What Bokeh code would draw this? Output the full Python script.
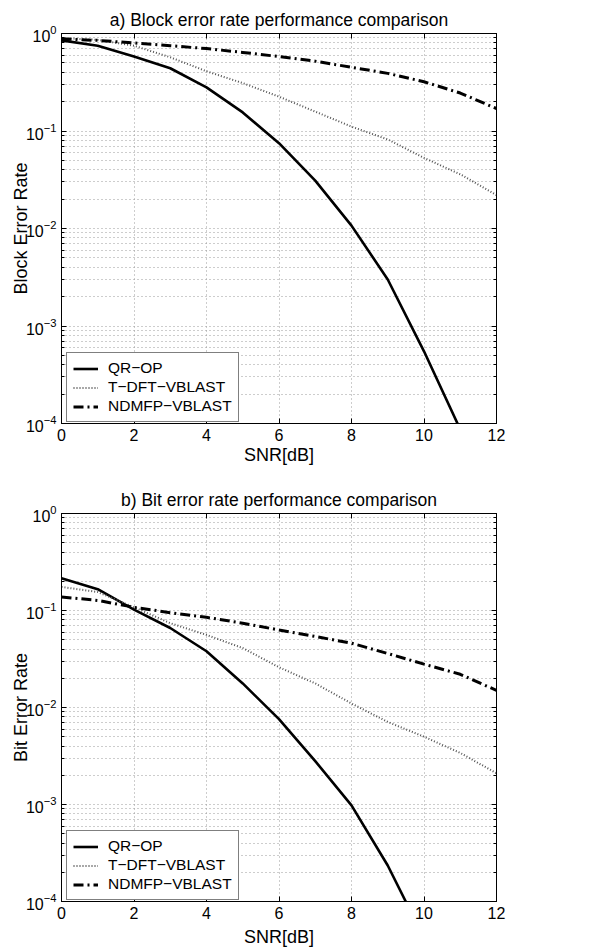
from bokeh.plotting import figure
from bokeh.models import (FixedTicker, LogAxis, LinearAxis, Legend, LegendItem,
                          Range1d, CustomJSTickFormatter)
from bokeh.layouts import column
from bokeh.embed import file_html
from bokeh.resources import INLINE

# ---------------- data ----------------
snr = [0, 1, 2, 3, 4, 5, 6, 7, 8, 9, 10, 11, 12]

# a) block error rate
bler_qr_snr = [0, 1, 2, 3, 4, 5, 6, 7, 8, 9, 10, 11]
bler_qr = [0.85, 0.75, 0.58, 0.44, 0.28, 0.155, 0.075, 0.031, 0.0107, 0.003, 5.5e-4, 8.7e-5]
bler_tdft = [0.90, 0.86, 0.75, 0.57, 0.41, 0.31, 0.225, 0.158, 0.111, 0.082, 0.053, 0.036, 0.022]
bler_ndmfp = [0.88, 0.85, 0.80, 0.75, 0.70, 0.64, 0.58, 0.52, 0.45, 0.39, 0.32, 0.245, 0.17]

# b) bit error rate
ber_qr_snr = [0, 1, 2, 3, 4, 5, 6, 7, 8, 9, 10]
ber_qr = [0.215, 0.166, 0.102, 0.066, 0.038, 0.0177, 0.0076, 0.0028, 9.8e-4, 2.35e-4, 4.2e-5]
ber_tdft = [0.175, 0.155, 0.108, 0.074, 0.056, 0.041, 0.026, 0.0177, 0.011, 0.0071, 0.0050, 0.0034, 0.0021]
ber_ndmfp = [0.138, 0.127, 0.108, 0.095, 0.085, 0.074, 0.063, 0.054, 0.046, 0.036, 0.028, 0.022, 0.015]

series_names = ["QR\u2212OP", "T\u2212DFT\u2212VBLAST", "NDMFP\u2212VBLAST"]
x_ticks = [0, 2, 4, 6, 8, 10, 12]
y_ticks = [1e-4, 1e-3, 1e-2, 1e-1, 1]
y_minor = [k * 10.0 ** e for e in range(-4, 0) for k in range(2, 10)]

FONT = "Liberation Sans"
GRID_COLOR = "#9a9a9a"


def make_plot(title, ylabel, qr_x, qr_y, tdft_y, ndmfp_y, frame_h, top_b, bot_b, xlab_standoff):
    p = figure(frame_width=435, frame_height=frame_h,
               x_range=Range1d(0, 12), y_range=Range1d(1e-4, 1),
               y_axis_type="log", output_backend="svg", toolbar_location=None,
               min_border_left=61, min_border_right=82,
               min_border_top=top_b, min_border_bottom=bot_b,
               background_fill_color="white", border_fill_color="white")
    p.outline_line_color = "black"
    p.outline_line_width = 1

    p.title.text = title
    p.title.align = "center"
    p.title.text_font = FONT
    p.title.text_font_size = "17.5px"
    p.title.text_font_style = "normal"
    p.title.text_color = "black"
    p.title.standoff = 7

    xt = FixedTicker(ticks=x_ticks, minor_ticks=[])
    yt = FixedTicker(ticks=y_ticks, minor_ticks=y_minor)

    xa = p.xaxis[0]
    xa.ticker = xt
    xa.axis_label = "SNR[dB]"
    ya = p.yaxis[0]
    ya.ticker = yt
    ya.axis_label = ylabel
    for ax in (xa, ya):
        ax.axis_label_text_font = FONT
        ax.axis_label_text_font_size = "18px"
        ax.axis_label_text_font_style = "normal"
        ax.axis_label_text_color = "black"
        ax.major_label_text_font = FONT
        ax.major_label_text_font_size = "16px"
        ax.major_label_text_color = "black"
        ax.axis_line_color = "black"
        ax.major_tick_line_color = "black"
        ax.minor_tick_line_color = "black"
        ax.major_tick_in = 5
        ax.major_tick_out = 0
        ax.minor_tick_in = 3
        ax.minor_tick_out = 0
    xa.axis_label_standoff = xlab_standoff
    xa.major_label_standoff = 5
    ya.axis_label_standoff = -8
    ya.major_label_standoff = 5

    # mirrored tick marks on top and right (box on)
    blank = CustomJSTickFormatter(code="return ''")
    top_ax = LinearAxis(ticker=xt, formatter=blank, major_label_text_font_size="1px",
                        major_tick_in=5, major_tick_out=0, minor_tick_in=0, minor_tick_out=0,
                        major_label_standoff=0, axis_line_color="black")
    right_ax = LogAxis(ticker=yt, formatter=blank, major_label_text_font_size="1px",
                       major_tick_in=5, major_tick_out=0, minor_tick_in=3, minor_tick_out=0,
                       major_label_standoff=0, axis_line_color="black")
    p.add_layout(top_ax, "above")
    p.add_layout(right_ax, "right")

    # grid
    p.xgrid.ticker = xt
    p.ygrid.ticker = yt
    for g in (p.xgrid[0], p.ygrid[0]):
        g.grid_line_color = GRID_COLOR
        g.grid_line_dash = "1 3"
        g.grid_line_width = 1
    p.ygrid.minor_grid_line_color = GRID_COLOR
    p.ygrid.minor_grid_line_dash = "1 3"
    p.ygrid.minor_grid_line_width = 1

    r1 = p.line(qr_x, qr_y, line_color="black", line_width=2.6)
    r2 = p.line(snr, tdft_y, line_color="#555555", line_width=2, line_dash="1 2")
    r3 = p.line(snr, ndmfp_y, line_color="black", line_width=3, line_dash="10 4 2 4")

    legend = Legend(items=[LegendItem(label=series_names[0], renderers=[r1]),
                           LegendItem(label=series_names[1], renderers=[r2]),
                           LegendItem(label=series_names[2], renderers=[r3])],
                    location=(5, 1))
    legend.label_text_font = FONT
    legend.label_text_font_size = "15.5px"
    legend.label_text_color = "black"
    legend.glyph_width = 25
    legend.glyph_height = 17
    legend.label_height = 17
    legend.label_standoff = 10
    legend.spacing = 1
    legend.padding = 6
    legend.margin = 0
    legend.border_line_color = "black"
    legend.border_line_width = 1
    legend.background_fill_color = "white"
    legend.background_fill_alpha = 1
    p.add_layout(legend)
    return p


p1 = make_plot("a) Block error rate performance comparison", "Block Error Rate",
               bler_qr_snr, bler_qr, bler_tdft, bler_ndmfp, 390, 33, 42, 1)
p2 = make_plot("b) Bit error rate performance comparison", "Bit Error Rate",
               ber_qr_snr, ber_qr, ber_tdft, ber_ndmfp, 388, 46, 47, 5)

layout = column(p1, p2, spacing=0)
open("out.html", "w").write(file_html(layout, INLINE))
